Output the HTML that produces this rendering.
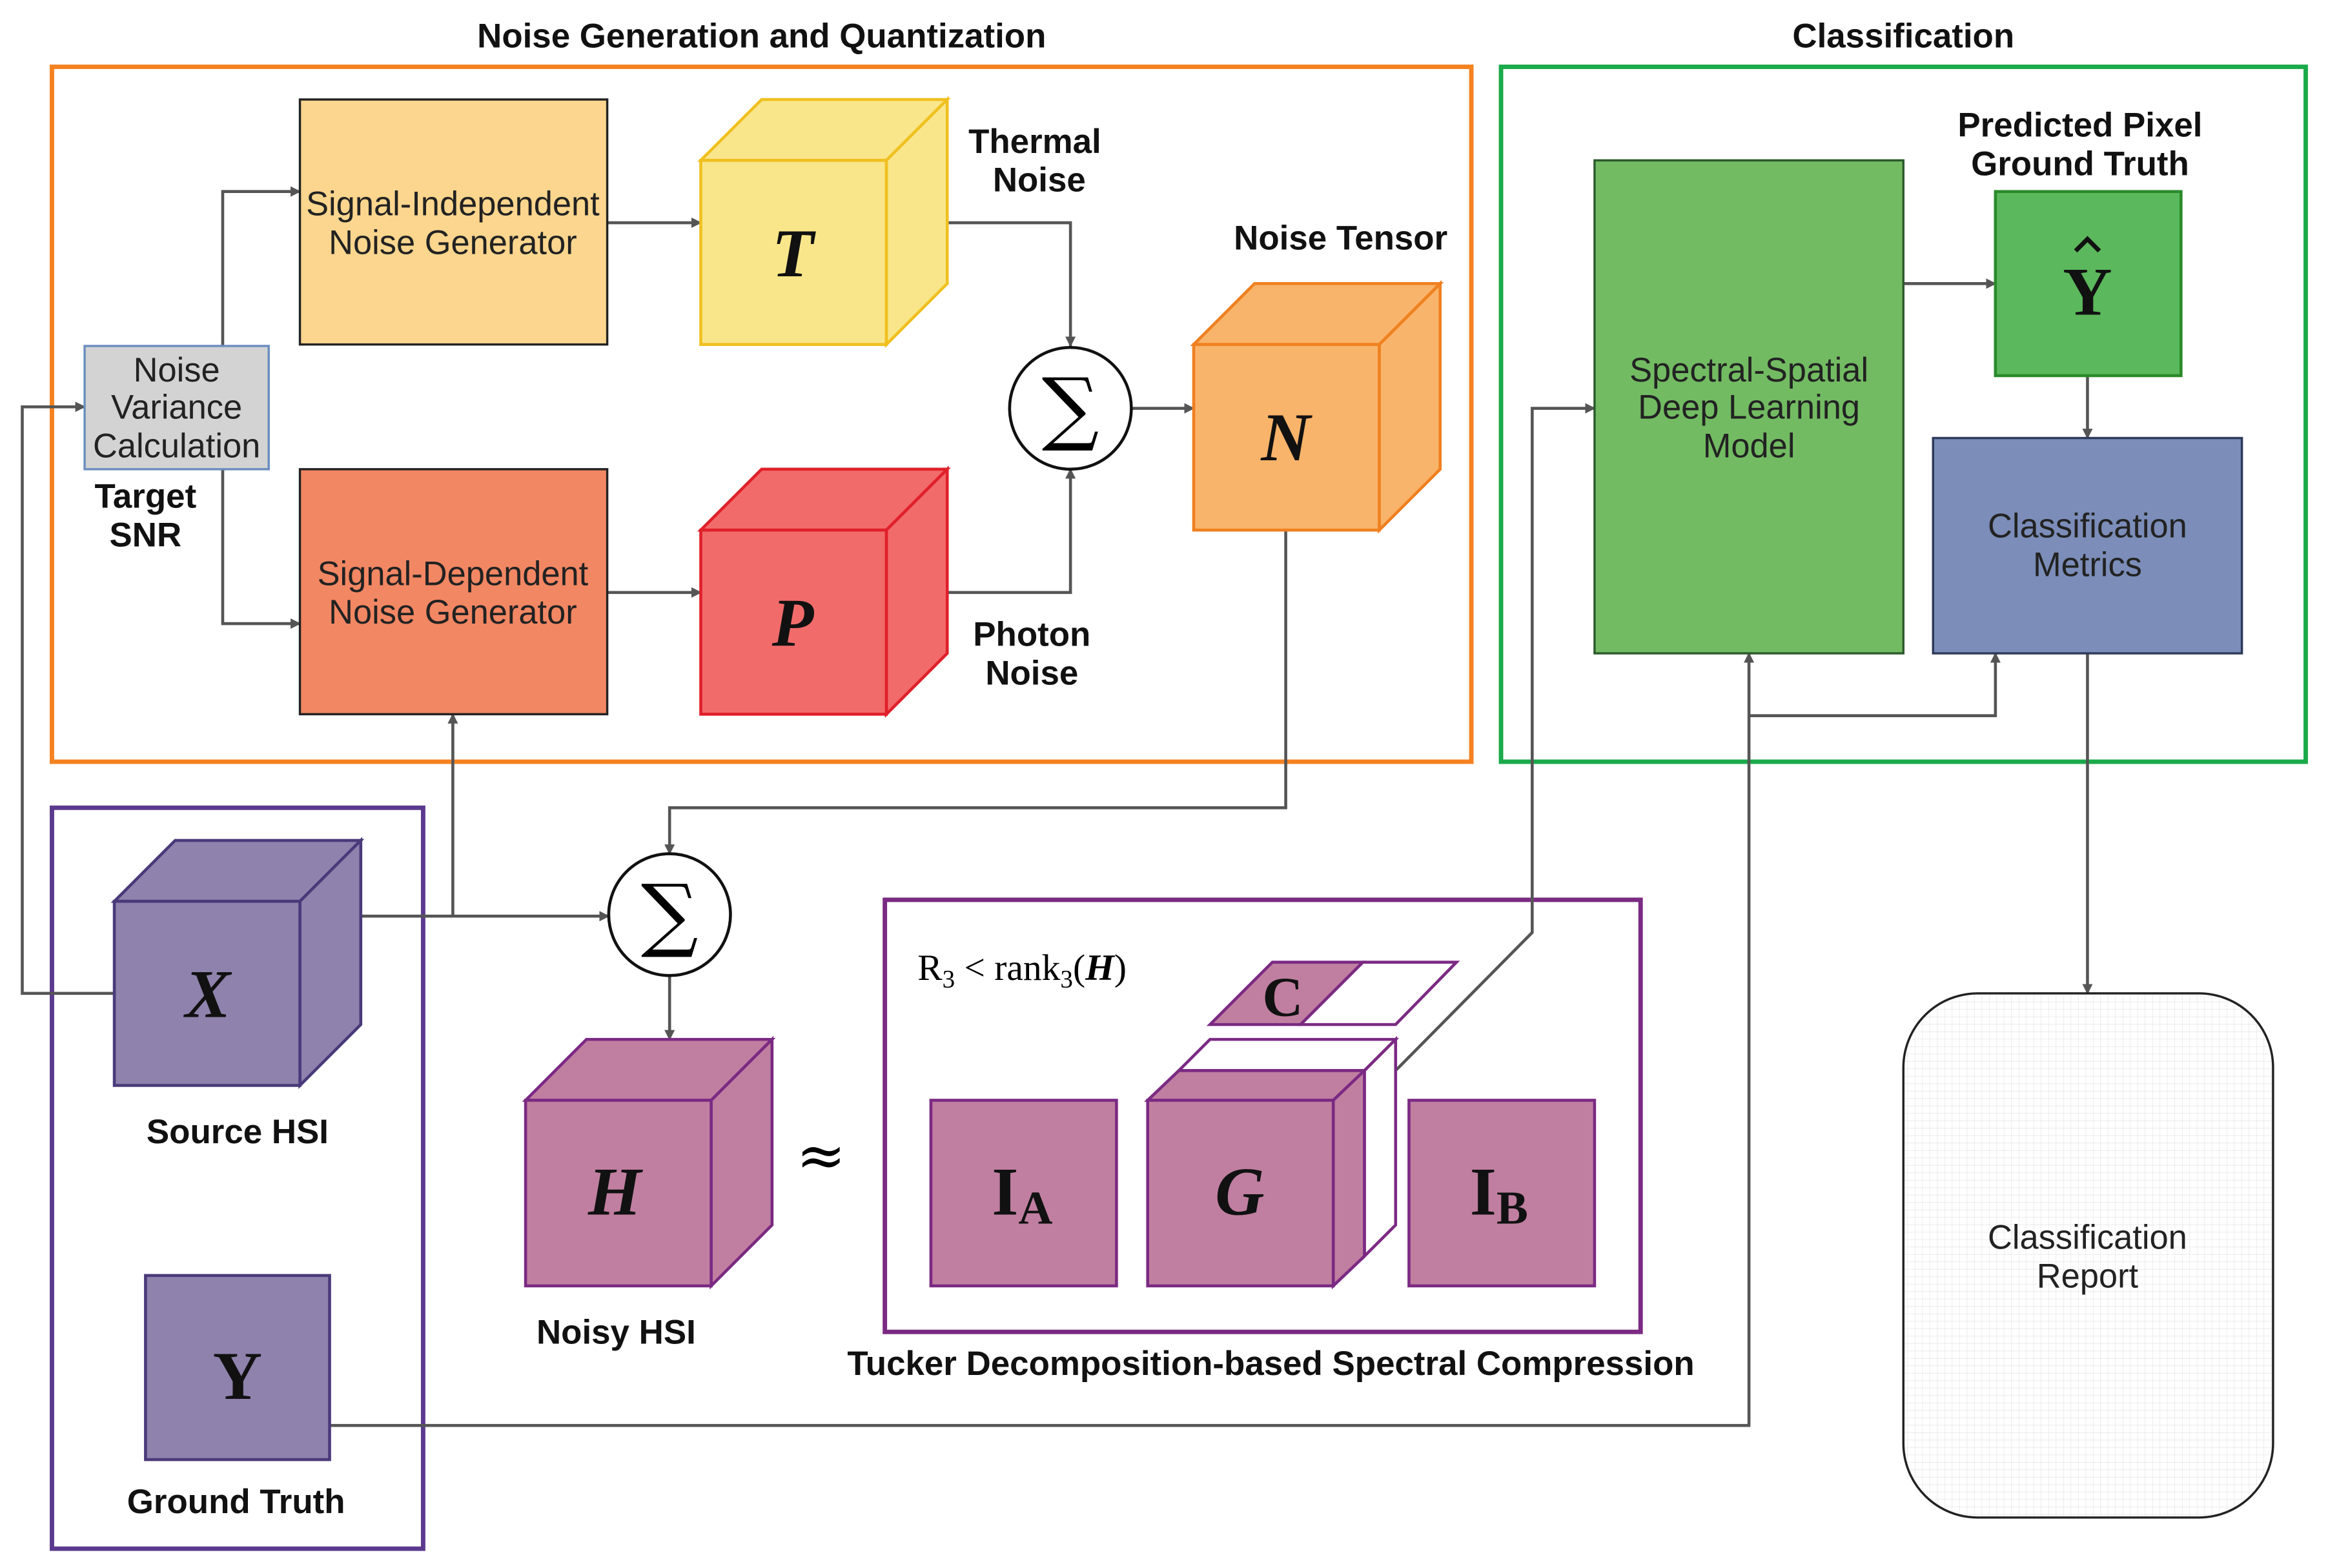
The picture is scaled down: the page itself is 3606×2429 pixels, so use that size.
<!DOCTYPE html>
<html><head><meta charset="utf-8"><style>
html,body{margin:0;padding:0;background:#fff;}
svg{display:block}
text{font-family:"Liberation Sans",sans-serif;}
.b{font-weight:bold;font-size:23px;fill:#111;}
.r{font-size:22.8px;fill:#222;}
.m{font-family:"Liberation Serif",serif;font-weight:bold;font-style:italic;font-size:46px;fill:#111;}
.mb{font-family:"Liberation Serif",serif;font-weight:bold;font-size:46px;fill:#111;}
.c{stroke:#555;stroke-width:2;fill:none;}
</style></head><body>
<svg width="3606" height="2429" viewBox="0 0 1568 1056" preserveAspectRatio="none" xmlns="http://www.w3.org/2000/svg">
<defs>
<marker id="a" viewBox="0 0 10 10" refX="9" refY="5" markerWidth="7" markerHeight="7" orient="auto" markerUnits="userSpaceOnUse"><path d="M0,0L10,5L0,10z" fill="#555"/></marker>
<pattern id="g" width="5" height="5" patternUnits="userSpaceOnUse"><path d="M5,0V5H0" fill="none" stroke="#e4e4e4" stroke-width="0.6"/></pattern>
</defs>

<text x="513" y="32" text-anchor="middle" class="b">Noise Generation and Quantization</text>
<text x="1282" y="32" text-anchor="middle" class="b">Classification</text>

<rect x="35" y="45" width="956" height="468" fill="none" stroke="#f58220" stroke-width="3"/>
<rect x="1011" y="45" width="542" height="468" fill="none" stroke="#1aaa4a" stroke-width="3"/>
<rect x="35" y="544" width="250" height="499" fill="none" stroke="#5b3a8e" stroke-width="3"/>
<rect x="596" y="606" width="509" height="291" fill="none" stroke="#7b2a83" stroke-width="3"/>

<path class="c" d="M409,150H472" marker-end="url(#a)"/>
<path class="c" d="M150,233V129H202" marker-end="url(#a)"/>
<path class="c" d="M150,316V420H202" marker-end="url(#a)"/>
<path class="c" d="M409,399H472" marker-end="url(#a)"/>
<path class="c" d="M638,150H721V233" marker-end="url(#a)"/>
<path class="c" d="M638,399H721V316" marker-end="url(#a)"/>
<path class="c" d="M762,275H804" marker-end="url(#a)"/>
<path class="c" d="M866,357V544H451V575" marker-end="url(#a)"/>
<path class="c" d="M243,617H410" marker-end="url(#a)"/>
<path class="c" d="M305,617V481" marker-end="url(#a)"/>
<path class="c" d="M77,669H15V274H57" marker-end="url(#a)"/>
<path class="c" d="M451,657V700" marker-end="url(#a)"/>
<path class="c" d="M940,721L1032,628V275H1074" marker-end="url(#a)"/>
<path class="c" d="M222,960H1178V440" marker-end="url(#a)"/>
<path class="c" d="M1178,482H1344V440" marker-end="url(#a)"/>
<path class="c" d="M1282,191H1344" marker-end="url(#a)"/>
<path class="c" d="M1406,253V295" marker-end="url(#a)"/>
<path class="c" d="M1406,440V669" marker-end="url(#a)"/>

<rect x="202" y="67" width="207" height="165" fill="#fcd68e" stroke="#222" stroke-width="1.5"/>
<text x="305" y="145" text-anchor="middle" class="r">Signal-Independent</text>
<text x="305" y="171" text-anchor="middle" class="r">Noise Generator</text>
<rect x="202" y="316" width="207" height="165" fill="#f28763" stroke="#222" stroke-width="1.5"/>
<text x="305" y="394" text-anchor="middle" class="r">Signal-Dependent</text>
<text x="305" y="420" text-anchor="middle" class="r">Noise Generator</text>
<rect x="57" y="233" width="124" height="83" fill="#d3d3d3" stroke="#6c8ebf" stroke-width="1.5"/>
<text x="119" y="257" text-anchor="middle" class="r">Noise</text>
<text x="119" y="282" text-anchor="middle" class="r">Variance</text>
<text x="119" y="308" text-anchor="middle" class="r">Calculation</text>
<text x="98" y="342" text-anchor="middle" class="b">Target</text>
<text x="98" y="368" text-anchor="middle" class="b">SNR</text>

<g stroke="#f0c020" stroke-width="2" fill="#f9e68a">
<path d="M472,108L513,67H638L597,108Z"/><path d="M597,108L638,67V191L597,232Z"/><rect x="472" y="108" width="125" height="124"/>
</g>
<text x="534" y="186" text-anchor="middle" class="m">T</text>
<text x="697" y="103" text-anchor="middle" class="b">Thermal</text>
<text x="700" y="129" text-anchor="middle" class="b">Noise</text>
<g stroke="#e0202a" stroke-width="2" fill="#f26b6b">
<path d="M472,357L513,316H638L597,357Z"/><path d="M597,357L638,316V440L597,481Z"/><rect x="472" y="357" width="125" height="124"/>
</g>
<text x="534" y="435" text-anchor="middle" class="m">P</text>
<text x="695" y="435" text-anchor="middle" class="b">Photon</text>
<text x="695" y="461" text-anchor="middle" class="b">Noise</text>
<circle cx="721" cy="275" r="41" fill="#fff" stroke="#111" stroke-width="2"/>
<text x="721" y="293" text-anchor="middle" style="font-family:'DejaVu Serif',serif;font-size:54px">∑</text>
<g stroke="#f08020" stroke-width="2" fill="#f8b46a">
<path d="M804,232L845,191H970L929,232Z"/><path d="M929,232L970,191V316L929,357Z"/><rect x="804" y="232" width="125" height="125"/>
</g>
<text x="866" y="310" text-anchor="middle" class="m">N</text>
<text x="903" y="168" text-anchor="middle" class="b">Noise Tensor</text>

<g stroke="#4a3a7a" stroke-width="2" fill="#8f82ad">
<path d="M77,607L118,566H243L202,607Z"/><path d="M202,607L243,566V690L202,731Z"/><rect x="77" y="607" width="125" height="124"/>
</g>
<text x="140" y="685" text-anchor="middle" class="m">X</text>
<text x="160" y="770" text-anchor="middle" class="b">Source HSI</text>
<rect x="98" y="859" width="124" height="124" fill="#8f82ad" stroke="#4a3a7a" stroke-width="2"/>
<text x="160" y="942" text-anchor="middle" class="mb">Y</text>
<text x="159" y="1019" text-anchor="middle" class="b">Ground Truth</text>

<circle cx="451" cy="616" r="41" fill="#fff" stroke="#111" stroke-width="2"/>
<text x="451" y="634" text-anchor="middle" style="font-family:'DejaVu Serif',serif;font-size:54px">∑</text>
<g stroke="#7b2a83" stroke-width="2" fill="#c07fa0">
<path d="M354,741L395,700H520L479,741Z"/><path d="M479,741L520,700V825L479,866Z"/><rect x="354" y="741" width="125" height="125"/>
</g>
<text x="414" y="818" text-anchor="middle" class="m">H</text>
<text x="415" y="905" text-anchor="middle" class="b">Noisy HSI</text>
<text x="553" y="792" text-anchor="middle" style="font-family:'DejaVu Serif',serif;font-size:40px">≈</text>

<text x="618" y="660" style="font-family:'Liberation Serif',serif;font-size:25px">R<tspan font-size="17" dy="5">3</tspan><tspan dy="-5"> &lt; rank</tspan><tspan font-size="17" dy="5">3</tspan><tspan dy="-5">(</tspan><tspan font-style="italic" font-weight="bold">H</tspan>)</text>
<g stroke="#7b2a83" stroke-width="2">
<path d="M815,690L857,648H918L876,690Z" fill="#c07fa0"/>
<path d="M876,690L918,648H981L940,690Z" fill="#fff"/>
<rect x="627" y="741" width="125" height="125" fill="#c07fa0"/>
<rect x="949" y="741" width="125" height="125" fill="#c07fa0"/>
<path d="M794,721L815,700H940L919,721Z" fill="#fff"/>
<path d="M919,721L940,700V825L919,846Z" fill="#fff"/>
<path d="M773,741L794,721H919L898,741Z" fill="#c07fa0"/>
<path d="M898,741L919,721V846L898,866Z" fill="#c07fa0"/>
<rect x="773" y="741" width="125" height="125" fill="#c07fa0"/>
</g>
<text x="864" y="684" text-anchor="middle" class="mb" style="font-size:38px">C</text>
<text x="835" y="818" text-anchor="middle" class="m">G</text>
<text x="668" y="818" class="mb">I<tspan font-size="32" dy="6">A</tspan></text>
<text x="990" y="818" class="mb">I<tspan font-size="32" dy="6">B</tspan></text>
<text x="856" y="926" text-anchor="middle" class="b">Tucker Decomposition-based Spectral Compression</text>

<rect x="1074" y="108" width="208" height="332" fill="#72bb62" stroke="#2d5a2d" stroke-width="1.5"/>
<text x="1178" y="257" text-anchor="middle" class="r">Spectral-Spatial</text>
<text x="1178" y="282" text-anchor="middle" class="r">Deep Learning</text>
<text x="1178" y="308" text-anchor="middle" class="r">Model</text>
<rect x="1344" y="129" width="125" height="124" fill="#5cb85c" stroke="#2a8a2a" stroke-width="2"/>
<text x="1406" y="212" text-anchor="middle" class="mb">Y</text>
<path d="M1398,169L1406,161L1414,169" fill="none" stroke="#111" stroke-width="3"/>
<text x="1401" y="92" text-anchor="middle" class="b">Predicted Pixel</text>
<text x="1401" y="118" text-anchor="middle" class="b">Ground Truth</text>
<rect x="1302" y="295" width="208" height="145" fill="#7b8db8" stroke="#2e3a5a" stroke-width="1.5"/>
<text x="1406" y="362" text-anchor="middle" class="r">Classification</text>
<text x="1406" y="388" text-anchor="middle" class="r">Metrics</text>
<rect x="1282" y="669" width="249" height="353" rx="50" fill="url(#g)" stroke="#222" stroke-width="1.5"/>
<text x="1406" y="841" text-anchor="middle" class="r">Classification</text>
<text x="1406" y="867" text-anchor="middle" class="r">Report</text>
</svg>
</body></html>
